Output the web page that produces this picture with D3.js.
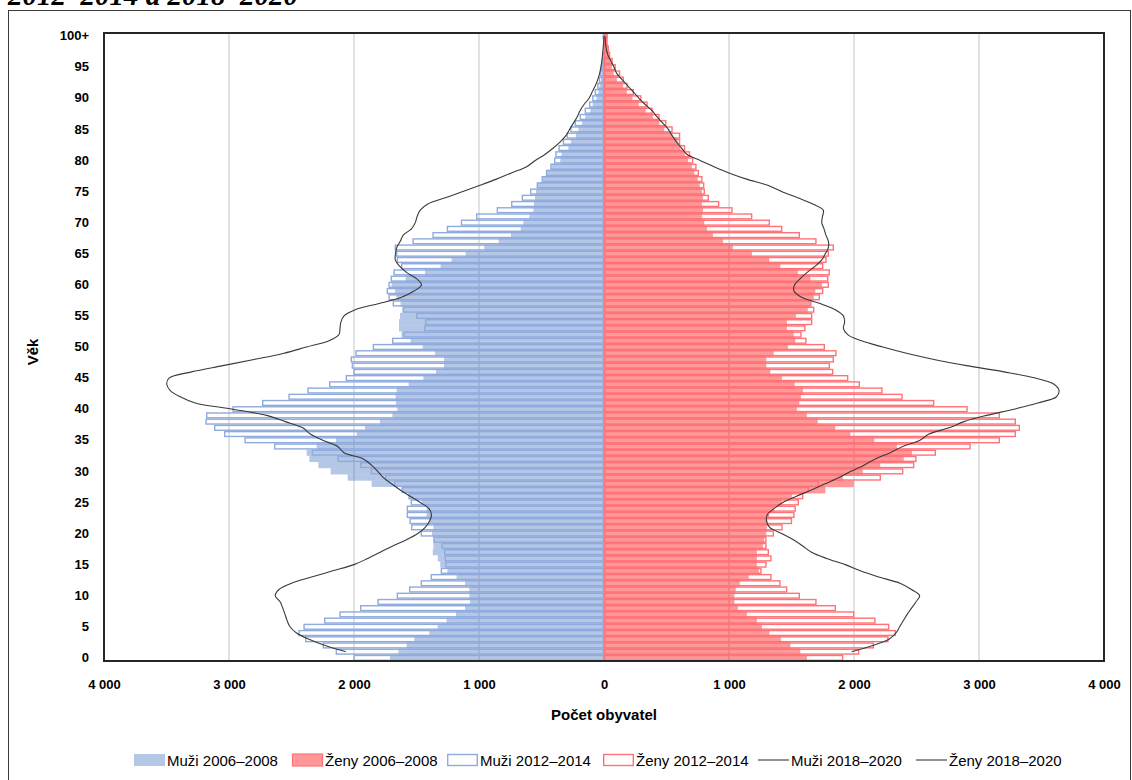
<!DOCTYPE html>
<html><head><meta charset="utf-8">
<script src="https://cdn.jsdelivr.net/npm/d3@7"></script>
<style>
html,body{margin:0;padding:0;background:#fff;}
svg{display:block;font-family:"Liberation Sans",Arial,sans-serif;}
</style></head>
<body><svg id="c" width="1132" height="780"></svg>
<script>
// ---- data ----
const ages = d3.range(0, 101);
const male2006 = [1712,1645,1579,1517,1397,1331,1259,1184,1112,1072,1077,1077,1112,1179,1253,1310,1330,1370,1365,1365,
1376,1365,1400,1419,1419,1459,1560,1619,1859,2051,2187,2285,2357,2379,2299,2144,1979,1912,1792,1693,
1653,1664,1667,1659,1563,1445,1344,1280,1280,1352,1451,1547,1620,1640,1640,1632,1611,1627,1660,1672,
1699,1587,1432,1307,1219,1107,957,843,744,666,645,597,565,560,552,544,530,490,455,420,
350,340,285,265,225,205,175,150,110,90,60,45,35,25,18,15,10,8,6,4,8];
const male2012 = [2005,2147,2251,2392,2445,2405,2240,2117,1952,1813,1659,1560,1467,1387,1307,1270,1275,1280,1300,1365,
1467,1544,1557,1579,1579,1547,1565,1619,1680,1752,1867,1952,2133,2339,2640,2877,3040,3120,3189,3184,
2973,2736,2525,2373,2200,2067,2005,2019,2027,1989,1851,1696,1605,1440,1432,1504,1611,1691,1725,1739,
1725,1707,1685,1624,1659,1664,1675,1533,1373,1258,1146,1024,859,744,659,592,539,500,465,430,
400,390,365,330,300,270,235,195,155,120,95,75,55,42,32,25,18,12,10,8,12];
const female2006 = [1621,1568,1488,1413,1320,1261,1221,1141,1069,1040,1040,1051,1083,1155,1235,1221,1221,1221,1269,1280,
1295,1300,1305,1320,1360,1420,1500,1768,1995,1909,2067,2208,2395,2461,2341,2160,1968,1848,1707,1621,
1541,1560,1573,1589,1523,1421,1328,1296,1296,1355,1469,1528,1515,1461,1461,1533,1627,1648,1675,1688,
1741,1648,1549,1408,1320,1181,1029,949,869,821,800,781,789,781,789,781,763,747,720,700,
670,645,610,585,545,480,440,390,330,275,225,180,150,100,75,60,50,40,30,20,25];
const female2012 = [1915,2043,2160,2277,2336,2283,2173,2003,1856,1701,1568,1467,1413,1341,1261,1301,1341,1320,1301,1301,
1360,1430,1505,1525,1535,1560,1595,1640,1720,2216,2395,2483,2501,2656,2934,3168,3296,3328,3296,3168,
2910,2643,2390,2229,2048,1955,1835,1808,1840,1861,1768,1621,1581,1613,1667,1667,1683,1661,1728,1755,
1800,1795,1808,1755,1781,1800,1840,1701,1568,1427,1328,1187,1029,923,840,808,803,789,760,741,
715,690,650,610,610,550,500,445,390,350,300,240,190,160,130,95,70,50,40,30,30];
// 2018–2020 lines, ages 1 .. 100
const lineAges = d3.range(1, 101);
const male2018 = [2066,2230,2360,2460,2512,2535,2552,2570,2590,2630,2600,2500,2340,2170,2000,1890,1790,1690,1580,1490,
1430,1395,1380,1400,1470,1550,1630,1700,1765,1810,1860,1925,2080,2130,2250,2350,2410,2550,2700,2970,
3270,3390,3470,3498,3480,3300,3050,2800,2560,2380,2200,2120,2112,2105,2080,1990,1800,1620,1520,1460,
1500,1580,1635,1670,1668,1658,1630,1606,1540,1510,1495,1470,1410,1270,1130,992,860,740,618,550,
470,406,350,305,275,245,215,192,160,120,95,70,50,35,25,17,12,7,3,0];
const female2018 = [1981,2150,2280,2335,2365,2395,2425,2460,2495,2525,2460,2368,2200,2050,1930,1780,1660,1590,1515,1420,
1325,1300,1305,1360,1430,1540,1660,1770,1880,1975,2080,2170,2290,2390,2528,2600,2760,2880,3060,3280,
3470,3620,3640,3600,3450,3200,2900,2640,2420,2230,2060,1950,1915,1925,1915,1850,1728,1580,1520,1525,
1570,1625,1690,1742,1770,1795,1795,1775,1760,1742,1748,1755,1670,1550,1420,1310,1140,1000,880,770,
662,620,580,545,515,470,425,385,330,280,236,190,145,102,80,55,30,18,12,8];
const xTicks = [-4000,-3000,-2000,-1000,0,1000,2000,3000,4000];
const yTicks = [0,5,10,15,20,25,30,35,40,45,50,55,60,65,70,75,80,85,90,95,100];
const legendItems = ["Muži 2006–2008","Ženy 2006–2008","Muži 2012–2014","Ženy 2012–2014","Muži 2018–2020","Ženy 2018–2020"];
const titleText = "2012–2014 a 2018–2020";

// ---- drawing ----
const svg = d3.select("#c");
const L = 104, R = 1104, T = 33, B = 661;
const x = d3.scaleLinear().domain([-4000, 4000]).range([L, R]);
const y = d3.scaleBand().domain(ages).range([B, T]).padding(0);
const bw = y.bandwidth();

svg.append("rect").attr("width",1132).attr("height",780).attr("fill","#fff");
// outer chart border
svg.append("rect").attr("x",8.5).attr("y",10.5).attr("width",1122).attr("height",800)
  .attr("fill","none").attr("stroke","#3a3a3a").attr("stroke-width",1);
// title (cut off at the top edge, as in the reference)
svg.append("text").attr("x",8).attr("y",5).text(titleText)
  .attr("font-family","'Liberation Serif','DejaVu Serif',serif").attr("font-weight","bold")
  .attr("font-style","italic").attr("font-size",29).attr("fill","#000");

// gridlines
svg.append("g").selectAll("line").data(xTicks.filter(d => d !== 0 && Math.abs(d) !== 4000)).join("line")
  .attr("x1", d => x(d)).attr("x2", d => x(d)).attr("y1", T).attr("y2", B)
  .attr("stroke", "#d9d9d9").attr("stroke-width", 1.5);

const mBlue = "#4472c4", mOut = "#8faadc", fRed = "#ff0000", fOut = "#ff7378";

// 2006–2008 filled bars (semi-transparent)
svg.append("g").selectAll("rect").data(ages).join("rect")
  .attr("x", a => x(-male2006[a])).attr("width", a => x(0) - x(-male2006[a]))
  .attr("y", a => y(a)).attr("height", bw)
  .attr("fill", mBlue).attr("fill-opacity", 0.4);
svg.append("g").selectAll("rect").data(ages).join("rect")
  .attr("x", x(0)).attr("width", a => x(female2006[a]) - x(0))
  .attr("y", a => y(a)).attr("height", bw)
  .attr("fill", fRed).attr("fill-opacity", 0.4)
  .attr("stroke", fOut).attr("stroke-opacity", 0.5).attr("stroke-width", 0.8);

// 2012–2014 outline bars
const inset = 0.7;
svg.append("g").selectAll("rect").data(ages).join("rect")
  .attr("x", a => x(-male2012[a]) + inset).attr("width", a => Math.max(0, x(0) - x(-male2012[a]) - inset*2))
  .attr("y", a => y(a) + inset).attr("height", bw - inset*2)
  .attr("fill", "none").attr("stroke", mOut).attr("stroke-width", 1.4);
svg.append("g").selectAll("rect").data(ages).join("rect")
  .attr("x", x(0) + inset).attr("width", a => Math.max(0, x(female2012[a]) - x(0) - inset*2))
  .attr("y", a => y(a) + inset).attr("height", bw - inset*2)
  .attr("fill", "none").attr("stroke", fOut).attr("stroke-width", 1.4);

// 2018–2020 lines
const lineM = d3.line().x((d,i) => x(-d)).y((d,i) => y(lineAges[i]) + bw/2).curve(d3.curveCatmullRom.alpha(0.5));
const lineF = d3.line().x((d,i) => x(d)).y((d,i) => y(lineAges[i]) + bw/2).curve(d3.curveCatmullRom.alpha(0.5));
svg.append("path").attr("d", lineM(male2018)).attr("fill","none").attr("stroke","#3a3a3a").attr("stroke-width",1.1);
svg.append("path").attr("d", lineF(female2018)).attr("fill","none").attr("stroke","#3a3a3a").attr("stroke-width",1.1);

// plot border
svg.append("rect").attr("x",L).attr("y",T).attr("width",R-L).attr("height",B-T)
  .attr("fill","none").attr("stroke","#262626").attr("stroke-width",2);

// axes
const fmt = d3.formatLocale({decimal:",", thousands:" ", grouping:[3], currency:["",""]}).format(",d");
const xAxis = svg.append("g").attr("transform",`translate(0,${B})`)
  .call(d3.axisBottom(x).tickValues(xTicks).tickFormat(d => fmt(Math.abs(d))).tickSize(0).tickPadding(19));
xAxis.select(".domain").remove();
xAxis.selectAll("text").attr("font-family","'Liberation Sans',Arial,sans-serif").attr("font-size",13)
  .attr("font-weight","bold").attr("fill","#000");

const yAxis = svg.append("g").attr("transform",`translate(${L},0)`)
  .call(d3.axisLeft(y).tickValues(yTicks).tickFormat(d => d === 100 ? "100+" : d).tickSize(0).tickPadding(15));
yAxis.select(".domain").remove();
yAxis.selectAll("text").attr("font-family","'Liberation Sans',Arial,sans-serif").attr("font-size",13)
  .attr("font-weight","bold").attr("fill","#000");

// axis titles
svg.append("text").attr("x",604).attr("y",720).attr("text-anchor","middle")
  .attr("font-size",15).attr("font-weight","bold").text("Počet obyvatel");
svg.append("text").attr("transform","translate(38,352) rotate(-90)").attr("text-anchor","middle")
  .attr("font-size",15).attr("font-weight","bold").text("Věk");

// legend
const legX = [134, 292, 447, 603, 758, 916];
const lg = svg.append("g");
legendItems.forEach((t, i) => {
  const g = lg.append("g").attr("transform", `translate(${legX[i]},760)`);
  if (i === 0) g.append("rect").attr("x",0).attr("y",-6).attr("width",31).attr("height",12).attr("fill",mBlue).attr("fill-opacity",0.4);
  if (i === 1) g.append("rect").attr("x",0.5).attr("y",-6).attr("width",30).attr("height",12).attr("fill",fRed).attr("fill-opacity",0.4).attr("stroke",fOut).attr("stroke-width",1.2);
  if (i === 2) g.append("rect").attr("x",0.7).attr("y",-5.5).attr("width",29.6).attr("height",11).attr("fill","#fff").attr("stroke",mOut).attr("stroke-width",1.4);
  if (i === 3) g.append("rect").attr("x",0.7).attr("y",-5.5).attr("width",29.6).attr("height",11).attr("fill","#fff").attr("stroke",fOut).attr("stroke-width",1.4);
  if (i >= 4) g.append("line").attr("x1",0).attr("x2",31).attr("y1",0).attr("y2",0).attr("stroke","#3a3a3a").attr("stroke-width",1.1);
  g.append("text").attr("x",33).attr("y",5.5).attr("font-size",15).attr("fill","#000").text(t);
});
</script></body></html>
